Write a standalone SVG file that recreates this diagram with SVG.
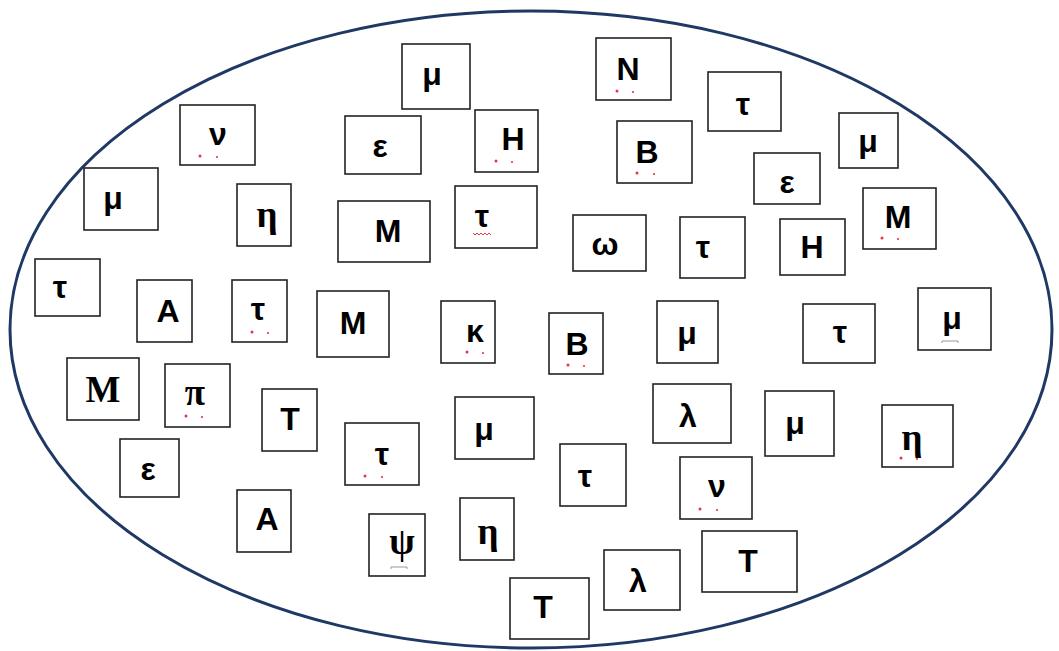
<svg xmlns="http://www.w3.org/2000/svg" width="1059" height="651" viewBox="0 0 1059 651">
<style>
.b{fill:#fff;stroke:#222;stroke-width:1.6}
.t{font-family:"Liberation Sans",Arial,sans-serif;font-weight:bold;font-size:32px;fill:#000;text-anchor:middle}
.s{font-family:"Liberation Serif","Times New Roman",serif;font-weight:bold;font-size:37px;fill:#000;text-anchor:middle}
.d{fill:#e8344a}
.g{fill:none;stroke:#999;stroke-width:1}
.w{fill:none;stroke:#e8344a;stroke-width:1}
</style>
<rect width="1059" height="651" fill="#fff"/>
<ellipse cx="531" cy="329.5" rx="521" ry="318.5" fill="none" stroke="#1f3864" stroke-width="3"/>
<g id="n1"><rect class="b" x="402" y="44" width="68" height="65"/><text class="t" x="432" y="85">μ</text></g>
<g id="n2"><rect class="b" x="180" y="105" width="75" height="60"/><text class="t" x="218" y="145">ν</text><circle class="d" cx="200" cy="156" r="1.5"/><circle class="d" cx="217" cy="157" r="1.1"/></g>
<g id="n3"><rect class="b" x="345" y="116" width="76" height="58"/><text class="t" x="380" y="157">ε</text></g>
<g id="n4"><rect class="b" x="475" y="110" width="63" height="62"/><text class="t" x="513" y="150">H</text><circle class="d" cx="496" cy="161" r="1.5"/><circle class="d" cx="512" cy="162" r="1.1"/></g>
<g id="n5"><rect class="b" x="84" y="168" width="74" height="62"/><text class="t" x="113" y="209">μ</text></g>
<g id="n6"><rect class="b" x="237" y="184" width="54" height="62"/><text class="s" x="267" y="227">η</text></g>
<g id="n7"><rect class="b" x="338" y="201" width="92" height="61"/><text class="t" x="388" y="242">M</text></g>
<g id="n8"><rect class="b" x="455" y="186" width="82" height="62"/><text class="t" x="482" y="227">τ</text><path class="w" d="M473 233 l2 2 l2 -2 l2 2 l2 -2 l2 2 l2 -2 l2 2 l2 -2 l2 2"/></g>
<g id="n9"><rect class="b" x="35" y="259" width="65" height="57"/><text class="t" x="60" y="298">τ</text></g>
<g id="n10"><rect class="b" x="137" y="280" width="55" height="62"/><text class="t" x="168" y="322">A</text></g>
<g id="n11"><rect class="b" x="232" y="280" width="55" height="62"/><text class="t" x="258" y="320">τ</text><circle class="d" cx="252" cy="332" r="1.5"/><circle class="d" cx="268" cy="333" r="1.1"/></g>
<g id="n12"><rect class="b" x="317" y="291" width="72" height="66"/><text class="t" x="353" y="334">M</text></g>
<g id="n13"><rect class="b" x="441" y="301" width="54" height="62"/><text class="t" x="475" y="342">κ</text><circle class="d" cx="467" cy="352" r="1.5"/><circle class="d" cx="483" cy="353" r="1.1"/></g>
<g id="n14"><rect class="b" x="549" y="313" width="54" height="61"/><text class="t" x="577" y="355">B</text><circle class="d" cx="568" cy="365" r="1.5"/><circle class="d" cx="584" cy="366" r="1.1"/></g>
<g id="n15"><rect class="b" x="596" y="38" width="75" height="62"/><text class="t" x="628" y="80">N</text><circle class="d" cx="617" cy="91" r="1.5"/><circle class="d" cx="633" cy="92" r="1.1"/></g>
<g id="n16"><rect class="b" x="708" y="72" width="73" height="59"/><text class="t" x="743" y="115">τ</text></g>
<g id="n17"><rect class="b" x="617" y="121" width="75" height="62"/><text class="t" x="647" y="163">B</text><circle class="d" cx="637" cy="173" r="1.5"/><circle class="d" cx="654" cy="174" r="1.1"/></g>
<g id="n18"><rect class="b" x="754" y="153" width="66" height="51"/><text class="t" x="787" y="193">ε</text></g>
<g id="n19"><rect class="b" x="839" y="113" width="59" height="55"/><text class="t" x="868" y="152">μ</text></g>
<g id="n20"><rect class="b" x="573" y="215" width="73" height="56"/><text class="t" x="605" y="255">ω</text></g>
<g id="n21"><rect class="b" x="680" y="217" width="65" height="61"/><text class="t" x="703" y="258">τ</text></g>
<g id="n22"><rect class="b" x="780" y="219" width="65" height="56"/><text class="t" x="812" y="258">H</text></g>
<g id="n23"><rect class="b" x="863" y="188" width="73" height="61"/><text class="t" x="898" y="228">M</text><circle class="d" cx="882" cy="238" r="1.5"/><circle class="d" cx="898" cy="239" r="1.1"/></g>
<g id="n24"><rect class="b" x="918" y="288" width="73" height="62"/><text class="t" x="952" y="329">μ</text><path class="g" d="M942 343 v-2 h16 v2"/></g>
<g id="n25"><rect class="b" x="803" y="304" width="72" height="59"/><text class="t" x="840" y="343">τ</text></g>
<g id="n26"><rect class="b" x="657" y="301" width="61" height="62"/><text class="t" x="687" y="344">μ</text></g>
<g id="n27"><rect class="b" x="653" y="384" width="78" height="59"/><text class="t" x="688" y="427">λ</text></g>
<g id="n28"><rect class="b" x="765" y="391" width="69" height="65"/><text class="t" x="795" y="434">μ</text></g>
<g id="n29"><rect class="b" x="882" y="405" width="71" height="62"/><text class="s" x="912" y="450">η</text><circle class="d" cx="901" cy="458" r="1.5"/><circle class="d" cx="917" cy="459" r="1.1"/></g>
<g id="n30"><rect class="b" x="560" y="444" width="66" height="62"/><text class="t" x="585" y="487">τ</text></g>
<g id="n31"><rect class="b" x="680" y="457" width="72" height="62"/><text class="t" x="717" y="497">ν</text><circle class="d" cx="700" cy="509" r="1.5"/><circle class="d" cx="717" cy="510" r="1.1"/></g>
<g id="n32"><rect class="b" x="702" y="531" width="95" height="61"/><text class="t" x="748" y="572">T</text></g>
<g id="n33"><rect class="b" x="604" y="550" width="76" height="60"/><text class="t" x="638" y="592">λ</text></g>
<g id="n34"><rect class="b" x="510" y="578" width="79" height="61"/><text class="t" x="543" y="618">T</text></g>
<g id="n35"><rect class="b" x="67" y="358" width="72" height="62"/><text class="s" x="103" y="402">M</text></g>
<g id="n36"><rect class="b" x="165" y="364" width="65" height="63"/><text class="s" x="195" y="405">π</text><circle class="d" cx="186" cy="416" r="1.5"/><circle class="d" cx="202" cy="417" r="1.1"/></g>
<g id="n37"><rect class="b" x="262" y="389" width="55" height="62"/><text class="t" x="290" y="430">T</text></g>
<g id="n38"><rect class="b" x="120" y="439" width="59" height="58"/><text class="t" x="148" y="480">ε</text></g>
<g id="n39"><rect class="b" x="345" y="423" width="74" height="62"/><text class="t" x="382" y="465">τ</text><circle class="d" cx="365" cy="476" r="1.5"/><circle class="d" cx="382" cy="477" r="1.1"/></g>
<g id="n40"><rect class="b" x="455" y="397" width="79" height="62"/><text class="t" x="484" y="440">μ</text></g>
<g id="n41"><rect class="b" x="237" y="490" width="54" height="62"/><text class="t" x="267" y="530">A</text></g>
<g id="n42"><rect class="b" x="369" y="514" width="56" height="62"/><text class="s" x="402" y="554">ψ</text><path class="g" d="M391 569 v-2 h16 v2"/></g>
<g id="n43"><rect class="b" x="460" y="498" width="54" height="62"/><text class="s" x="488" y="544">η</text></g>
<g id="connectors"></g>
</svg>
